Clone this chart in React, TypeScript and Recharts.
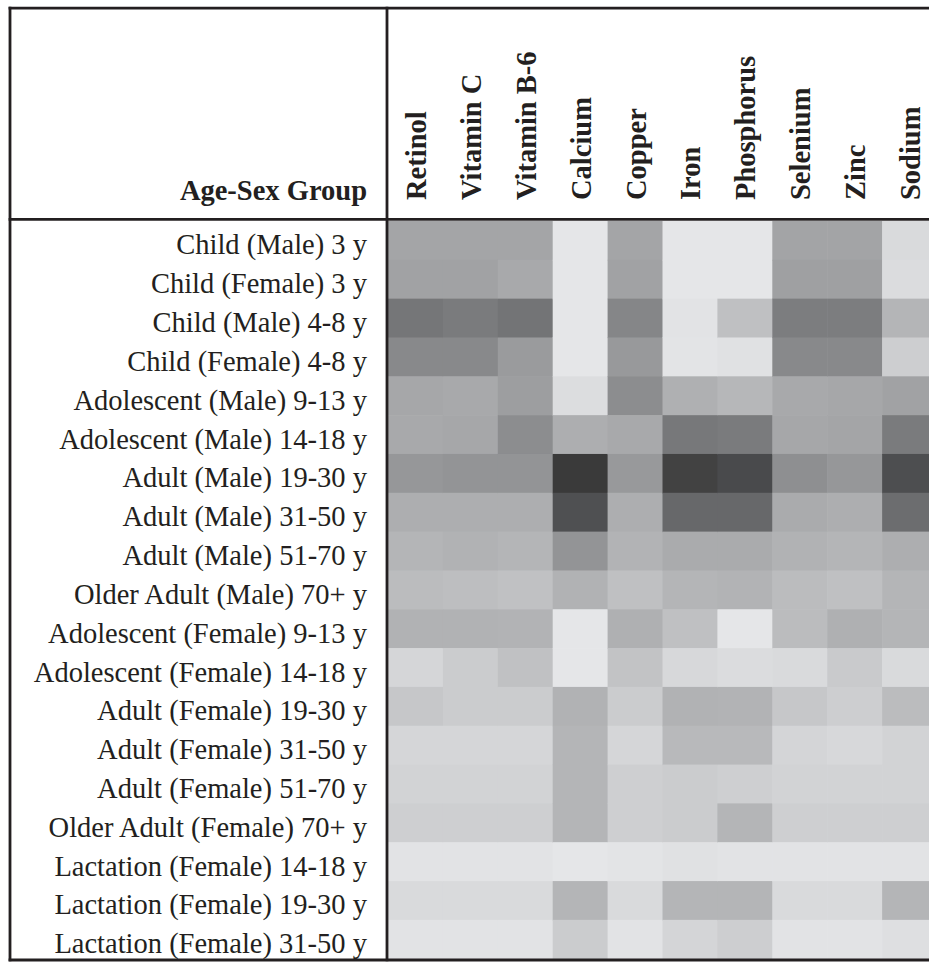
import { ScatterChart, Scatter, XAxis, YAxis } from "recharts";

const GROUPS = [
  "Child (Male) 3 y",
  "Child (Female) 3 y",
  "Child (Male) 4-8 y",
  "Child (Female) 4-8 y",
  "Adolescent (Male) 9-13 y",
  "Adolescent (Male) 14-18 y",
  "Adult (Male) 19-30 y",
  "Adult (Male) 31-50 y",
  "Adult (Male) 51-70 y",
  "Older Adult (Male) 70+ y",
  "Adolescent (Female) 9-13 y",
  "Adolescent (Female) 14-18 y",
  "Adult (Female) 19-30 y",
  "Adult (Female) 31-50 y",
  "Adult (Female) 51-70 y",
  "Older Adult (Female) 70+ y",
  "Lactation (Female) 14-18 y",
  "Lactation (Female) 19-30 y",
  "Lactation (Female) 31-50 y",
];

const NUTRIENTS = [
  "Retinol",
  "Vitamin C",
  "Vitamin B-6",
  "Calcium",
  "Copper",
  "Iron",
  "Phosphorus",
  "Selenium",
  "Zinc",
  "Sodium",
];

// shading level per age-sex group, one list per nutrient (0 = lightest, 100 = darkest)
const RETINOL = [37, 39, 64, 53, 36, 35, 45, 32, 28, 24, 30, 9, 18, 9, 11, 13, 2, 7, 2];
const VITAMIN_C = [37, 39, 61, 53, 35, 36, 47, 32, 30, 23, 30, 15, 15, 9, 11, 13, 2, 7, 2];
const VITAMIN_B6 = [37, 35, 65, 43, 41, 51, 47, 32, 28, 21, 29, 21, 15, 9, 11, 13, 2, 7, 2];
const CALCIUM = [0, 0, 0, 0, 5, 32, 98, 86, 47, 30, 0, 0, 30, 28, 28, 28, 0, 28, 15];
const COPPER = [37, 39, 55, 44, 51, 35, 44, 32, 29, 22, 31, 20, 15, 9, 13, 13, 1, 7, 2];
const IRON = [0, 0, 2, 1, 31, 63, 93, 72, 34, 28, 22, 8, 30, 26, 15, 15, 3, 28, 10];
const PHOSPHORUS = [0, 0, 22, 3, 27, 61, 89, 72, 34, 29, 0, 6, 29, 26, 13, 28, 2, 28, 14];
const SELENIUM = [38, 40, 60, 53, 35, 36, 50, 34, 30, 24, 24, 7, 18, 10, 11, 13, 2, 7, 2];
const ZINC = [38, 40, 60, 53, 36, 37, 45, 32, 28, 22, 31, 16, 14, 8, 11, 13, 2, 7, 2];
const SODIUM = [7, 6, 28, 14, 39, 61, 87, 69, 32, 28, 28, 7, 24, 11, 11, 13, 2, 28, 4];

const COLUMNS = [
  RETINOL,
  VITAMIN_C,
  VITAMIN_B6,
  CALCIUM,
  COPPER,
  IRON,
  PHOSPHORUS,
  SELENIUM,
  ZINC,
  SODIUM,
];

const CHART_W = 945;
const CHART_H = 964;
const PLOT_LEFT = 388;
const PLOT_TOP = 221;
const PLOT_RIGHT = 937;
const PLOT_BOTTOM = 958.7;
const CELL_W = (PLOT_RIGHT - PLOT_LEFT) / NUTRIENTS.length;
const CELL_H = (PLOT_BOTTOM - PLOT_TOP) / GROUPS.length;

const INK = "#231f20";
const FONT = "'Liberation Serif', 'Times New Roman', serif";
const FONT_SIZE = 28.5;

const cells = NUTRIENTS.flatMap((nutrient, c) =>
  COLUMNS[c].map((value, r) => ({
    x: c + 0.5,
    y: r + 0.5,
    value,
    nutrient,
    group: GROUPS[r],
  }))
);

function shade(v: number) {
  const g = 229 - 1.75 * v;
  const tint = v > 90 ? 0 : 1;
  return `rgb(${Math.round(g)}, ${Math.round(g + tint)}, ${Math.round(g + 3 * tint)})`;
}

function HeatCell(props: any) {
  const { cx, cy, payload } = props;
  return (
    <rect
      x={cx - CELL_W / 2}
      y={cy - CELL_H / 2}
      width={CELL_W + 0.6}
      height={CELL_H + 0.6}
      fill={shade(payload.value)}
    />
  );
}

function NutrientTick(props: any) {
  const { x, payload } = props;
  return (
    <text
      transform={`translate(${x + 10.5}, 200) rotate(-90)`}
      fontFamily={FONT}
      fontSize={FONT_SIZE}
      fontWeight="bold"
      fill={INK}
      textAnchor="start"
    >
      {NUTRIENTS[Math.floor(payload.value)]}
    </text>
  );
}

function GroupTick(props: any) {
  const { y, payload } = props;
  return (
    <text
      x={367}
      y={y + 14}
      fontFamily={FONT}
      fontSize={FONT_SIZE}
      fill={INK}
      textAnchor="end"
    >
      {GROUPS[Math.floor(payload.value)]}
    </text>
  );
}

export default function App() {
  return (
    <div
      style={{
        position: "absolute",
        left: 0,
        top: 0,
        width: 929,
        height: CHART_H,
        overflow: "hidden",
        background: "#fff",
      }}
    >
      <ScatterChart
        width={CHART_W}
        height={CHART_H}
        margin={{
          top: 8,
          left: 8,
          right: CHART_W - PLOT_RIGHT,
          bottom: CHART_H - PLOT_BOTTOM,
        }}
      >
        <XAxis
          type="number"
          dataKey="x"
          orientation="top"
          domain={[0, NUTRIENTS.length]}
          ticks={NUTRIENTS.map((_, i) => i + 0.5)}
          interval={0}
          height={PLOT_TOP - 8}
          axisLine={false}
          tickLine={false}
          tick={<NutrientTick />}
        />
        <YAxis
          type="number"
          dataKey="y"
          domain={[0, GROUPS.length]}
          reversed
          ticks={GROUPS.map((_, i) => i + 0.5)}
          interval={0}
          width={PLOT_LEFT - 8}
          axisLine={false}
          tickLine={false}
          tick={<GroupTick />}
        />
        <Scatter data={cells} shape={<HeatCell />} isAnimationActive={false} />
      </ScatterChart>

      {/* table frame and row header title */}
      <svg
        width={CHART_W}
        height={CHART_H}
        style={{ position: "absolute", left: 0, top: 0, pointerEvents: "none" }}
      >
        <g stroke={INK} strokeWidth={2.8}>
          <line x1={8.6} y1={8.2} x2={CHART_W} y2={8.2} />
          <line x1={10} y1={6.8} x2={10} y2={961.2} />
          <line x1={387} y1={6.8} x2={387} y2={961.2} />
          <line x1={8.6} y1={219.4} x2={CHART_W} y2={219.4} />
          <line x1={8.6} y1={960} x2={CHART_W} y2={960} />
        </g>
        <text
          x={367}
          y={200}
          fontFamily={FONT}
          fontSize={FONT_SIZE}
          fontWeight="bold"
          fill={INK}
          textAnchor="end"
        >
          Age-Sex Group
        </text>
      </svg>
    </div>
  );
}
